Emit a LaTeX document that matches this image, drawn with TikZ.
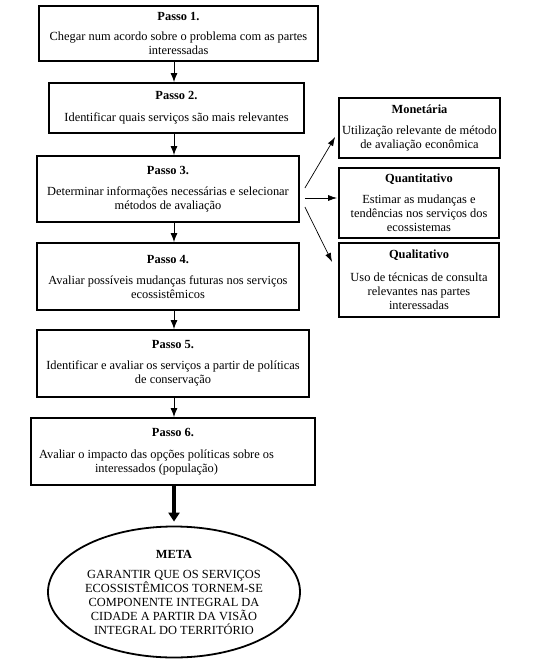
\documentclass[tikz,border=0pt]{standalone}
\usepackage{fontspec}
\setmainfont{Liberation Serif}
\usepackage{tikz}
\tikzset{>=latex}
\usetikzlibrary{shapes.geometric, arrows.meta}

\tikzset{
  stepbox/.style={draw=black, line width=1.8pt, align=center, inner sep=0pt,
    font=\fontsize{12.4}{14}\selectfont},
  flow/.style={line width=1pt, -{Latex[length=9pt, width=7pt]}},
  branch/.style={line width=0.7pt, -{Latex[length=9pt, width=6pt]}},
  bigflow/.style={line width=4pt, -{Triangle[length=9pt, width=11pt]}},
}

\begin{document}
\begin{tikzpicture}[x=1pt, y=-1pt]
\useasboundingbox (0,0) rectangle (537,664);

% Steps
    \node[stepbox, minimum width=279, minimum height=55] (s1) at (178.5, 33.5)
      {\textbf{Passo 1.}\\[6pt]Chegar num acordo sobre o problema com as partes\\interessadas};
    \node[stepbox, minimum width=255, minimum height=50] (s2) at (176.5, 108)
      {\textbf{Passo 2.}\\[8pt]Identificar quais serviços são mais relevantes};
    \node[stepbox, minimum width=262, minimum height=66] (s3) at (168, 189)
      {\textbf{Passo 3.}\\[7pt]Determinar informações necessárias e selecionar\\métodos de avaliação};
    \node[stepbox, minimum width=262, minimum height=67] (s4) at (168, 276.5)
      {\textbf{Passo 4.}\\[7pt]Avaliar possíveis mudanças futuras nos serviços\\ecossistêmicos};
    \node[stepbox, minimum width=272, minimum height=67] (s5) at (173, 363.5)
      {\textbf{Passo 5.}\\[7pt]Identificar e avaliar os serviços a partir de políticas\\de conservação};
    \node[stepbox, minimum width=284, minimum height=67] (s6) at (173, 451.5)
      {\textbf{Passo 6.}\\[8pt]\hspace*{-33pt}Avaliar o impacto das opções políticas sobre os\\\hspace*{-33pt}interessados (população)};

% Methods
    \node[stepbox, minimum width=161, minimum height=60] (mon) at (419.5, 128)
      {\textbf{Monetária}\\[7pt]Utilização relevante de método\\de avaliação econômica};
    \node[stepbox, minimum width=160, minimum height=70] (quan) at (419, 203)
      {\textbf{Quantitativo}\\[7pt]Estimar as mudanças e\\tendências nos serviços dos\\ecossistemas};
    \node[stepbox, minimum width=160, minimum height=74] (qual) at (419, 280)
      {\textbf{Qualitativo}\\[9pt]Uso de técnicas de consulta\\relevantes nas partes\\interessadas};

% Goal
    \node[stepbox, ellipse, minimum width=252, minimum height=131] (meta) at (174, 592)
      {\textbf{META}\\[6pt]GARANTIR QUE OS SERVIÇOS\\ECOSSISTÊMICOS TORNEM-SE\\COMPONENTE INTEGRAL DA\\CIDADE A PARTIR DA VISÃO\\INTEGRAL DO TERRITÓRIO};

    \coordinate (spine) at (174, 0);

    \foreach \a/\b in {s1/s2, s2/s3, s3/s4, s4/s5, s5/s6}{
        \draw[flow] (\a.south -| spine) -- (\b.north -| spine);
    }

    \draw[bigflow, shorten >=4pt] (s6.south -| spine) -- (meta.north -| spine);

    \draw[branch] ([shift={(5,-1)}]s3.east) -- ([shift={(-3,9)}]mon.west);
    \draw[branch] ([shift={(5,9)}]s3.east) -- ([shift={(-1,-5)}]quan.west);
    \draw[branch] ([shift={(5,18)}]s3.east) -- ([shift={(-6,-18)}]qual.west);

\end{tikzpicture}
\end{document}
